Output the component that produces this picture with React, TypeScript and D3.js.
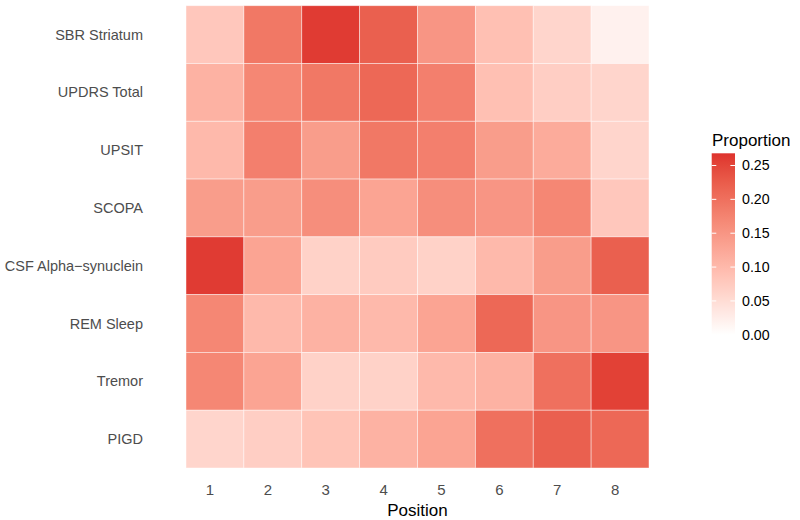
import React from "react";
import * as d3 from "d3";

const features = [
  "SBR Striatum",
  "UPDRS Total",
  "UPSIT",
  "SCOPA",
  "CSF Alpha\u2212synuclein",
  "REM Sleep",
  "Tremor",
  "PIGD",
];
const positions = ["1", "2", "3", "4", "5", "6", "7", "8"];

const sbrStriatum = [0.08, 0.19, 0.26, 0.22, 0.15, 0.09, 0.06, 0.02];
const updrsTotal = [0.11, 0.17, 0.19, 0.21, 0.18, 0.09, 0.07, 0.06];
const upsit = [0.1, 0.18, 0.14, 0.19, 0.18, 0.14, 0.12, 0.06];
const scopa = [0.14, 0.14, 0.16, 0.13, 0.16, 0.15, 0.17, 0.08];
const csfAlpha = [0.26, 0.13, 0.065, 0.075, 0.065, 0.1, 0.14, 0.22];
const remSleep = [0.17, 0.1, 0.11, 0.1, 0.13, 0.21, 0.15, 0.15];
const tremor = [0.17, 0.13, 0.065, 0.065, 0.1, 0.11, 0.2, 0.255];
const pigd = [0.06, 0.07, 0.085, 0.11, 0.13, 0.2, 0.22, 0.21];

const rows = [sbrStriatum, updrsTotal, upsit, scopa, csfAlpha, remSleep, tremor, pigd];
const legendTicks = [0, 0.05, 0.1, 0.15, 0.2, 0.25];
const maxValue = 0.268;

export default function App() {
  const W = 800;
  const H = 520;
  const left = 186;
  const right = 649;
  const top = 5.7;
  const bottom = 468;

  const x = d3.scaleBand<string>().domain(positions).range([left, right]).padding(0);
  const y = d3.scaleBand<string>().domain(features).range([top, bottom]).padding(0);
  const color = d3
    .scaleLinear<string>()
    .domain([0, maxValue])
    .range(["#FFFFFF", "#DE322D"])
    .interpolate(d3.interpolateLab);

  const cells: { f: string; p: string; v: number }[] = [];
  features.forEach((f, i) => {
    positions.forEach((p, j) => {
      cells.push({ f, p, v: rows[i][j] });
    });
  });

  const barX = 711.7;
  const barW = 23.3;
  const barTop = 153.3;
  const barBottom = 334.8;
  const ly = d3.scaleLinear().domain([0, maxValue]).range([barBottom, barTop]);
  const stops = d3.range(0, 21).map((i) => i / 20);

  const font = "'Liberation Sans', Arial, sans-serif";

  return (
    <svg
      width={W}
      height={H}
      style={{ position: "absolute", left: 0, top: 0, background: "#fff" }}
      fontFamily={font}
    >
      <defs>
        <linearGradient id="legGrad" x1="0" y1="1" x2="0" y2="0">
          {stops.map((s) => (
            <stop key={s} offset={s} stopColor={color(s * maxValue)} />
          ))}
        </linearGradient>
      </defs>
      <g>
        {cells.map((c) => (
          <rect
            key={c.f + c.p}
            x={x(c.p)}
            y={y(c.f)}
            width={x.bandwidth()}
            height={y.bandwidth()}
            fill={color(c.v)}
            stroke="#ffffff"
            strokeOpacity={0.55}
            strokeWidth={0.8}
          />
        ))}
      </g>
      <g>
        {features.map((f) => (
          <text
            key={f}
            x={143}
            y={(y(f) as number) + y.bandwidth() / 2}
            textAnchor="end"
            dominantBaseline="central"
            fontSize={14.5}
            fill="#4D4D4D"
          >
            {f}
          </text>
        ))}
      </g>
      <g>
        {positions.map((p) => (
          <text
            key={p}
            x={(x(p) as number) + x.bandwidth() / 2 - 5}
            y={489}
            textAnchor="middle"
            dominantBaseline="central"
            fontSize={15}
            fill="#4D4D4D"
          >
            {p}
          </text>
        ))}
      </g>
      <text
        x={(left + right) / 2}
        y={510}
        textAnchor="middle"
        dominantBaseline="central"
        fontSize={17}
        fill="#000"
      >
        Position
      </text>
      <g>
        <text x={712} y={140} dominantBaseline="central" fontSize={17} fill="#000">
          Proportion
        </text>
        <rect x={barX} y={barTop} width={barW} height={barBottom - barTop} fill="url(#legGrad)" />
        {legendTicks.map((t) => (
          <g key={t}>
            <line x1={barX} x2={barX + 4.6} y1={ly(t)} y2={ly(t)} stroke="#fff" strokeWidth={1} />
            <line
              x1={barX + barW - 4.6}
              x2={barX + barW}
              y1={ly(t)}
              y2={ly(t)}
              stroke="#fff"
              strokeWidth={1}
            />
            <text x={742} y={ly(t)} dominantBaseline="central" fontSize={14.2} fill="#000">
              {t.toFixed(2)}
            </text>
          </g>
        ))}
      </g>
    </svg>
  );
}
